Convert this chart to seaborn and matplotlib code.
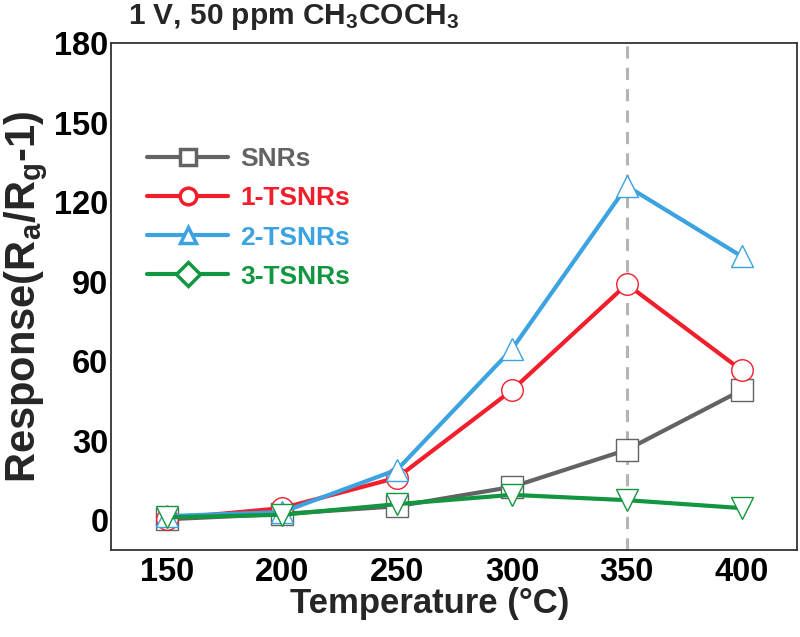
import matplotlib
matplotlib.use("Agg")
import matplotlib.pyplot as plt
from matplotlib.lines import Line2D
import seaborn as sns
import pandas as pd

temperature = [150, 200, 250, 300, 350, 400]
snrs = [0.3, 2.3, 5.2, 12.5, 26.5, 49]
tsnrs1 = [0.5, 4.5, 16, 49, 89, 56.5]
tsnrs2 = [1.5, 3, 19, 64.5, 126, 99.5]
tsnrs3 = [1, 2, 6, 9.5, 7.5, 4.5]
series_names = ["SNRs", "1-TSNRs", "2-TSNRs", "3-TSNRs"]
yticks = [0, 30, 60, 90, 120, 150, 180]
xticks = [150, 200, 250, 300, 350, 400]

colors = ["#636363", "#F21E2B", "#3BA3E0", "#12963F"]
plot_markers = ["s", "o", "^", "v"]
legend_markers = ["s", "o", "^", "D"]

sns.set_theme(style="white")
plt.rcParams["font.family"] = ["Liberation Sans", "DejaVu Sans"]
plt.rcParams["font.weight"] = "bold"
plt.rcParams["mathtext.fontset"] = "custom"
plt.rcParams["mathtext.bf"] = "Liberation Sans:bold"
plt.rcParams["mathtext.rm"] = "Liberation Sans:bold"
plt.rcParams["mathtext.default"] = "bf"

fig = plt.figure(figsize=(8, 6.37), dpi=100)
ax = fig.add_axes([0.139, 0.1366, 0.857, 0.7959])

ax.axvline(350, color="#B4B4B4", lw=2.2, ls=(0, (4, 3)), zorder=1)

values = [snrs, tsnrs1, tsnrs2, tsnrs3]
for name, vals, c, m in zip(series_names, values, colors, plot_markers):
    df = pd.DataFrame({"Temperature": temperature, "Response": vals})
    sns.lineplot(data=df, x="Temperature", y="Response", ax=ax, color=c, lw=3.0,
                 marker=m, markersize=15.5, markerfacecolor="white",
                 markeredgecolor=c, markeredgewidth=1.0, zorder=3)

ax.set_xlim(125.5, 424)
ax.set_ylim(-11.3, 180)
ax.set_xticks(xticks)
ax.set_yticks(yticks)
ax.tick_params(axis="both", length=0, labelsize=23.5, colors="black")
ax.tick_params(axis="x", pad=5)
ax.tick_params(axis="y", pad=2)
for lab in ax.get_xticklabels() + ax.get_yticklabels():
    lab.set_fontweight("bold")
for sp in ax.spines.values():
    sp.set_color("#333333")
    sp.set_linewidth(1.3)

ax.set_xlabel("Temperature (°C)", fontsize=25, fontweight="bold", labelpad=-1)
ax.xaxis.label.set_x(0.465)
ax.set_ylabel("Response(R$_a$/R$_g$-1)", fontsize=30, fontweight="bold", labelpad=3)

handles = [Line2D([0], [0], color=c, lw=3.0, marker=m, markersize=12,
                  markerfacecolor="white", markeredgecolor=c, markeredgewidth=2.5)
           for c, m in zip(colors, legend_markers)]
leg = ax.legend(handles, series_names, loc="upper left", bbox_to_anchor=(0.0525, 0.794),
                frameon=False, handlelength=3.07, labelspacing=0.57,
                borderpad=0, borderaxespad=0,
                handletextpad=0.45, labelcolor=colors, prop={"weight": "bold", "size": 19})

fig.text(0.16, 0.973, "1 V, 50 ppm CH$_3$COCH$_3$", fontsize=21.5, fontweight="bold",
         ha="left", va="center")

fig.savefig("out.png", dpi=100)
